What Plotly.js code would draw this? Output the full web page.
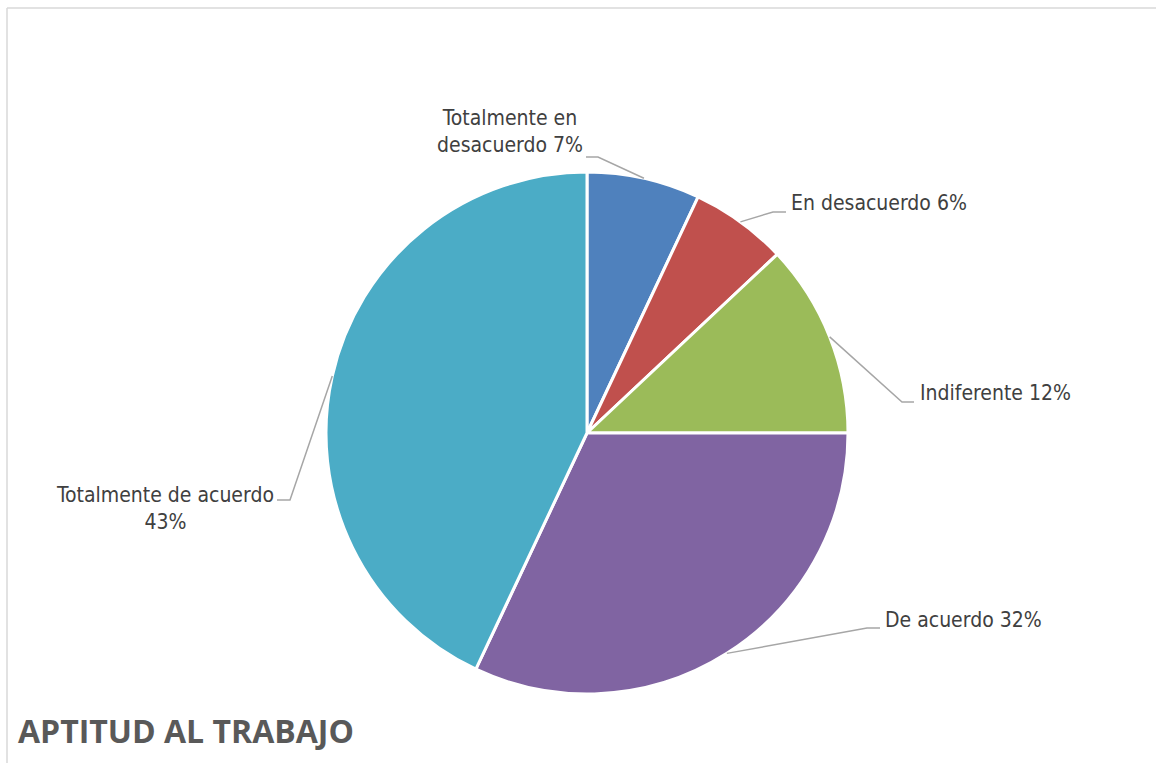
<!DOCTYPE html>
<html>
<head>
<meta charset="utf-8">
<script src="https://cdn.plot.ly/plotly-3.0.1.min.js"></script>
<style>
  html, body { margin: 0; padding: 0; background: #ffffff; }
  #chart { width: 1156px; height: 763px; }
</style>
</head>
<body>
<div id="chart"></div>
<script>
// ---- data ----
const categories = ['Totalmente en desacuerdo', 'En desacuerdo', 'Indiferente', 'De acuerdo', 'Totalmente de acuerdo'];
const values = [7, 6, 12, 32, 43];
// how each category name is broken in its data label
const displayNames = ['Totalmente en<br>desacuerdo', 'En desacuerdo', 'Indiferente', 'De acuerdo', 'Totalmente de acuerdo<br>'];
const colors = ['#4F81BD', '#C0504D', '#9BBB59', '#8064A2', '#4BACC6'];
const chartTitle = 'APTITUD AL TRABAJO';

// ---- layout (pixels) ----
const W = 1156, H = 763;
const CX = 587, CY = 433, R = 261;
// label anchor [x, y, xanchor] and leader elbow [x1 (near text), x2, y]
const labelPos = [
  [510, 131, 'center'],
  [789, 203, 'left'],
  [918, 393, 'left'],
  [883, 620, 'left'],
  [165, 508, 'center']
];
const elbows = [
  [586, 598, 157],
  [786, 773, 212],
  [914, 902, 402],
  [880, 867, 628],
  [277, 290, 500]
];

const px = x => x / W;
const py = y => 1 - y / H;

const total = values.reduce((a, b) => a + b, 0);
const annotations = [];
const shapes = [];
let cum = 0;
values.forEach((v, i) => {
  const theta = 2 * Math.PI * (cum + v / 2) / total;
  cum += v;
  const ex = CX + R * Math.sin(theta);
  const ey = CY - R * Math.cos(theta);
  const pct = Math.round(100 * v / total);
  const name = displayNames[i];
  const txt = name.endsWith('<br>') ? name + pct + '%' : name + ' ' + pct + '%';
  annotations.push({
    xref: 'paper', yref: 'paper',
    x: px(labelPos[i][0]), y: py(labelPos[i][1]),
    xanchor: labelPos[i][2], yanchor: 'middle',
    text: txt, showarrow: false, align: 'center',
    font: { family: '"DejaVu Sans Condensed", "Roboto", sans-serif', size: 21, color: '#404040' }
  });
  const e = elbows[i];
  shapes.push({
    type: 'path', xref: 'paper', yref: 'paper',
    path: `M ${px(ex)} ${py(ey)} L ${px(e[1])} ${py(e[2])} L ${px(e[0])} ${py(e[2])}`,
    line: { color: '#A6A6A6', width: 1.5 }
  });
});

// chart-area border (top and left edges visible)
shapes.push({ type: 'line', xref: 'paper', yref: 'paper', x0: px(7), x1: 1, y0: py(8), y1: py(8), line: { color: '#D9D9D9', width: 1.5 } });
shapes.push({ type: 'line', xref: 'paper', yref: 'paper', x0: px(7), x1: px(7), y0: py(8), y1: 0, line: { color: '#D9D9D9', width: 1.5 } });

annotations.push({
  xref: 'paper', yref: 'paper', x: px(16), y: py(730), xanchor: 'left', yanchor: 'middle',
  text: '<b>' + chartTitle + '</b>', showarrow: false,
  font: { family: '"Open Sans", "Liberation Sans", sans-serif', size: 32, color: '#595959' }
});

const trace = {
  type: 'pie',
  labels: categories,
  values: values,
  sort: false,
  direction: 'clockwise',
  rotation: 0,
  textinfo: 'none',
  hoverinfo: 'label+percent',
  marker: { colors: colors, line: { color: '#ffffff', width: 3 } },
  domain: { x: [px(CX - R), px(CX + R)], y: [py(CY + R), py(CY - R)] },
  showlegend: false
};

const layout = {
  width: W, height: H,
  margin: { l: 0, r: 0, t: 0, b: 0 },
  paper_bgcolor: '#ffffff',
  showlegend: false,
  annotations: annotations,
  shapes: shapes
};

Plotly.newPlot('chart', [trace], layout, { displayModeBar: false, staticPlot: true });
</script>
</body>
</html>
